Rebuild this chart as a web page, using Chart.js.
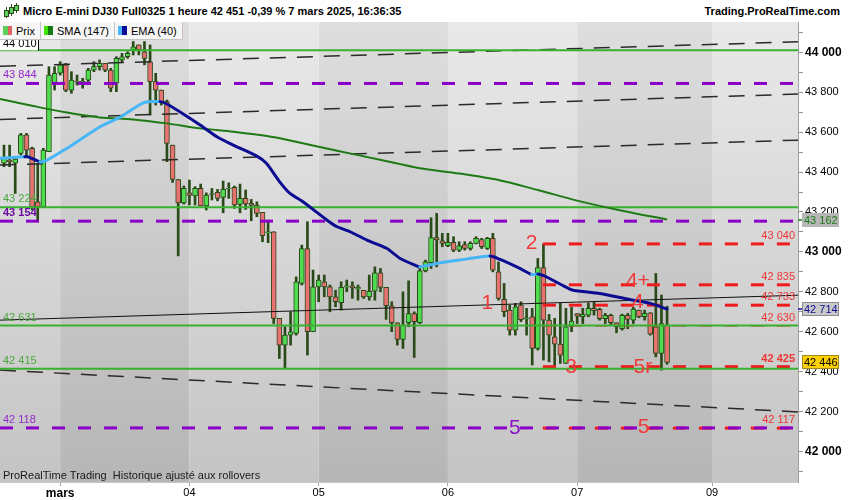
<!DOCTYPE html>
<html><head><meta charset="utf-8">
<script src="https://cdn.jsdelivr.net/npm/chart.js@4.4.1/dist/chart.umd.min.js"></script>
<style>
body{margin:0;width:850px;height:500px;overflow:hidden;background:#fff;font-family:"Liberation Sans",Arial,sans-serif;position:relative}
#hdr{position:absolute;left:0;top:0;width:850px;height:22px;background:#fff}
#title{position:absolute;left:23px;top:5px;font-weight:bold;font-size:11px;color:#000;white-space:nowrap}
#site{position:absolute;right:10px;top:5px;font-weight:bold;font-size:11px;color:#000;white-space:nowrap}
#wrap{position:absolute;left:0;top:22px;width:850px;height:478px}
#legend{position:absolute;left:0;top:22px;height:17px;display:flex;background:#f6f6f6;border-bottom:1px solid #c4c4c4;border-right:1px solid #c4c4c4;font-size:11px;color:#000}
.li{display:flex;align-items:center;padding:0 5px 0 3px;border-right:1px solid #c4c4c4;height:17px;white-space:nowrap}
.li:last-child{border-right:none}
.sw{display:inline-block;width:4.5px;height:9px}
.ic{position:absolute;background:#2a4a18}
.icb{position:absolute;background:#5cd05c;border:1px solid #2a4a18}
</style></head>
<body>
<div id="hdr">
  <div class="ic" style="left:6px;top:7px;width:1px;height:11px"></div>
  <div class="icb" style="left:4px;top:10px;width:3px;height:5px"></div>
  <div class="ic" style="left:11px;top:4px;width:1px;height:12px"></div>
  <div class="icb" style="left:9px;top:7px;width:3px;height:5px"></div>
  <div class="ic" style="left:16px;top:3px;width:1px;height:10px"></div>
  <div class="icb" style="left:14px;top:5px;width:3px;height:4px"></div>
  <div id="title">Micro E-mini DJ30 Full0325 1 heure 42 451 -0,39 % 7 mars 2025, 16:36:35</div>
  <div id="site">Trading.ProRealTime.com</div>
</div>
<div id="wrap"><canvas id="c" width="850" height="478"></canvas></div>
<div id="legend">
  <div class="li"><span class="sw" style="background:#5cd05c"></span><span class="sw" style="background:#e06464;margin-right:4px"></span>Prix</div>
  <div class="li"><span class="sw" style="background:#40e000"></span><span class="sw" style="background:#157a12;margin-right:4px"></span>SMA (147)</div>
  <div class="li"><span class="sw" style="background:#48b8f8"></span><span class="sw" style="background:#0a0a98;margin-right:4px"></span>EMA (40)</div>
</div>
<script>
// ---------- data ----------
const open  = [43444,43460,43445,43494,43586,43519,43251,43226,43502,43845,43895,43937,43811,43855,43850,43861,43911,43928,43945,43911,43845,43962,43978,44012,44037,44003,43953,43853,43811,43753,43535,43363,43246,43296,43280,43318,43231,43288,43298,43273,43315,43323,43238,43268,43243,43235,43198,43095,43100,42667,42533,42583,42591,42842,43017,42600,42825,42850,42825,42775,42745,42825,42830,42815,42808,42775,42803,42895,42822,42730,42645,42561,42645,42691,42645,42905,42946,43072,43056,43031,43048,43009,43037,43017,43043,43062,43017,43068,42900,42762,42708,42608,42733,42665,42675,42516,42922,42658,42575,42538,42441,42625,42691,42675,42683,42717,42712,42665,42682,42645,42615,42682,42658,42708,42675,42695,42625,42491,42633];
const high  = [43535,43535,43470,43594,43594,43525,43444,43519,43928,43928,43953,43945,43903,43886,43870,43920,43953,43962,43945,43920,43978,43995,44003,44054,44037,44054,44037,43895,43811,43761,43535,43363,43330,43360,43327,43340,43296,43318,43313,43355,43346,43330,43340,43310,43263,43251,43198,43159,43101,42667,42625,42700,42875,43034,43151,42909,42884,42884,42834,42808,42850,42859,42850,42834,42808,42884,42925,42917,42822,42750,42645,42800,42855,42700,42917,42959,43171,43193,43093,43093,43076,43051,43051,43051,43076,43068,43073,43093,42950,42842,42733,42742,42750,42717,42717,42967,43039,42687,42667,42742,42717,42722,42691,42717,42745,42750,42717,42692,42688,42645,42688,42692,42722,42708,42708,42695,42892,42784,42728];
const low   = [43427,43427,43293,43485,43477,43210,43151,43226,43502,43811,43886,43803,43795,43836,43820,43853,43903,43911,43903,43803,43803,43953,43970,43987,43987,43937,43686,43736,43736,43452,43348,42980,43240,43235,43235,43231,43210,43260,43256,43196,43268,43218,43196,43213,43156,43176,43051,43046,42641,42466,42416,42533,42583,42834,42483,42600,42750,42775,42700,42725,42708,42800,42767,42758,42767,42758,42758,42800,42662,42600,42533,42516,42625,42471,42641,42900,42917,42925,43026,43026,43001,43001,43009,43009,43040,43017,43012,42900,42758,42675,42583,42583,42650,42583,42433,42508,42458,42449,42424,42441,42441,42600,42641,42641,42675,42683,42658,42641,42633,42595,42608,42615,42641,42670,42658,42583,42474,42408,42437];
const close = [43469,43452,43465,43586,43510,43226,43226,43510,43886,43895,43937,43811,43861,43850,43855,43911,43928,43945,43911,43820,43970,43978,43995,44028,44012,43970,43853,43811,43753,43544,43363,43246,43318,43283,43318,43231,43285,43292,43268,43313,43318,43235,43268,43240,43233,43193,43081,43100,42667,42533,42583,42600,42850,43017,42600,42825,42859,42825,42775,42750,42822,42830,42820,42822,42775,42803,42895,42822,42730,42645,42561,42633,42691,42650,42905,42950,43072,43060,43043,43048,43009,43031,43017,43043,43068,43026,43068,42909,42767,42700,42608,42725,42661,42670,42516,42922,42658,42583,42538,42483,42625,42653,42678,42687,42717,42705,42665,42682,42645,42625,42682,42662,42713,42675,42692,42588,42491,42641,42446];

const smaIdx = [-0.7,5.2,11.2,17,23,29,34.9,40.8,46.8,49.1,56,63,70,74,81,88,95,102,110,118];
const smaVal = [43766,43731,43698,43674,43664,43644,43619,43602,43581,43569,43527,43485,43443,43419,43393,43360,43310,43257,43206,43162];

const emaIdx = [-0.7,3.7,4.3,6.4,7.4,11.2,17.1,20.6,24.8,27.8,29,31.9,34.9,37.9,40.8,45,46.7,49.1,50.9,53.2,57.5,59.3,61.6,64.6,68.1,70.5,73.5,74,77,81.1,86.5,88.3,91.8,93.9,95,96.3,99.3,101.1,106,109,112,115,118];
const emaVal = [43469,43477,43476,43452,43456,43519,43627,43674,43747,43753,43741,43691,43636,43577,43535,43480,43444,43350,43293,43251,43159,43126,43101,43059,43018,42967,42929,42925,42942,42959,42979,42962,42917,42887,42889,42878,42834,42809,42792,42775,42758,42742,42714];

const dayIdx = [10,33,56,79,102,126];
const dayLabels = ['mars','04','05','06','07','09'];
const priceTicks = [41900,42000,42100,42200,42300,42400,42500,42600,42700,42800,42900,43000,43100,43200,43300,43400,43500,43600,43700,43800,43900,44000,44100];

const greenLevels  = [44010,43224,42631,42415];
const purpleLevels = [43844,43154,42118];
const redLevels    = [43040,42835,42733,42630,42425,42117];
const redStartIdx  = 95.9;

const trendSolid  = [42658,42783];               // left edge, right edge
const trendDashed = [[43930,44053],[43664,43791],[43435,43560],[42408,42198]];

const waveText  = ['1','2','3','4+','4','5r','5','5'];
const waveIdx   = [86,93.9,100.9,112.8,112.8,113.7,90.9,113.8];
const wavePrice = [42743,43044,42424,42855,42750,42424,42118,42123];

const lastPrice = 42446, smaLast = 43162, emaLast = 42714;

// ---------- view ----------
const X_MIN = -0.71, X_MAX = 141.3, Y_MIN = 41847, Y_MAX = 44152;
const FONT = '"Liberation Sans", Arial, sans-serif';
const fmt = v => String(v).replace(/\B(?=(\d{3})+(?!\d))/g, ' ');
const hline = (v, a, b) => [{x: a, y: v}, {x: b, y: v}];
const noPad = s => { s.paddingTop = 0; s.paddingBottom = 0; s.paddingLeft = 0; s.paddingRight = 0; };

const datasets = [];
datasets.push({type:'bar', label:'wick', order:100, grouped:false, barThickness:2,
  data: low.map((l,i)=>({x:i, y:[l, high[i]]})), backgroundColor:'#2a4a18'});
datasets.push({type:'bar', label:'body', order:99, grouped:false, barThickness:5,
  data: open.map((o,i)=>({x:i, y:[o, close[i]]})),
  backgroundColor: open.map((o,i)=> close[i] >= o ? '#4fdc4f' : '#e87272'),
  borderColor:'#2a4a18', borderWidth:1, borderSkipped:false});
trendDashed.forEach(t => datasets.push({type:'line', order:60, data:[{x:X_MIN,y:t[0]},{x:X_MAX,y:t[1]}],
  borderColor:'#2a2a2a', borderWidth:1.5, borderDash:[16,11], pointRadius:0}));
datasets.push({type:'line', order:60, data:[{x:X_MIN,y:trendSolid[0]},{x:X_MAX,y:trendSolid[1]}],
  borderColor:'#111', borderWidth:1, pointRadius:0});
redLevels.forEach(v => datasets.push({type:'line', order:40, data:hline(v, redStartIdx, X_MAX),
  borderColor:'#ee1c1c', borderWidth: greenLevels.some(g => Math.abs(g - v) < 3) ? 1.5 : 3,
  borderDash:[13,13], pointRadius:0}));
greenLevels.forEach(v => datasets.push({type:'line', order:30, data:hline(v, X_MIN, X_MAX),
  borderColor:'#38b030', borderWidth:2, pointRadius:0}));
purpleLevels.forEach(v => datasets.push({type:'line', order:20, data:hline(v, X_MIN, X_MAX),
  borderColor:'#8a00c8', borderWidth:3, borderDash:[13,13], pointRadius:0}));
datasets.push({type:'line', order:10, data: smaIdx.map((k,i)=>({x:k,y:smaVal[i]})),
  borderColor:'#1e7a14', borderWidth:2, pointRadius:0, tension:0.3});
datasets.push({type:'line', order:5, data: emaIdx.map((k,i)=>({x:k,y:emaVal[i]})),
  borderWidth:3, pointRadius:0, tension:0.2, borderCapStyle:'round', borderJoinStyle:'round',
  borderColor:'#0c0c92',
  segment:{borderColor: c => c.p1.parsed.y > c.p0.parsed.y ? '#46b6f6' : '#0c0c92'}});

const bgPlugin = {
  id:'bg',
  beforeDraw(chart){
    const {ctx, chartArea:a, scales:{x}} = chart;
    const gl = ctx.createLinearGradient(0,a.top,0,a.bottom);
    gl.addColorStop(0,'#e9e9e9'); gl.addColorStop(1,'#c4c4c4');
    const gd = ctx.createLinearGradient(0,a.top,0,a.bottom);
    gd.addColorStop(0,'#dedede'); gd.addColorStop(1,'#b6b6b6');
    const b = [X_MIN, ...dayIdx, X_MAX];
    ctx.save();
    for (let i=0;i<b.length-1;i++){
      const x0 = Math.max(a.left, x.getPixelForValue(b[i]));
      const x1 = Math.min(a.right, x.getPixelForValue(b[i+1]));
      ctx.fillStyle = (i%2===1) ? gd : gl;
      ctx.fillRect(x0, a.top, x1-x0, a.bottom-a.top);
    }
    ctx.restore();
  }
};

const overlayPlugin = {
  id:'overlay',
  afterDraw(chart){
    const {ctx, chartArea:a, scales:{x,y}} = chart;
    ctx.save();
    ctx.textBaseline = 'middle';
    ctx.textAlign = 'left';
    greenLevels.forEach((v,i) => {
      const py = y.getPixelForValue(v);
      if (i===0){
        ctx.fillStyle='#fff'; ctx.fillRect(0, py-12, 38, 12);
        ctx.strokeStyle='#000'; ctx.lineWidth=1;
        ctx.beginPath(); ctx.moveTo(38.5, py-12); ctx.lineTo(38.5, py); ctx.stroke();
        ctx.fillStyle='#000'; ctx.font='11px '+FONT; ctx.fillText(fmt(v), 3, py-6.5);
      } else {
        ctx.fillStyle='#4aa83c'; ctx.font='11px '+FONT; ctx.fillText(fmt(v), 3, py-8);
      }
    });
    purpleLevels.forEach((v,i) => {
      const py = y.getPixelForValue(v);
      ctx.fillStyle = i===1 ? '#6a0a9e' : '#9428cc';
      ctx.font = (i===1 ? 'bold ' : '') + '11px '+FONT;
      ctx.fillText(fmt(v), 3, py-8);
    });
    ctx.textAlign = 'right';
    redLevels.forEach(v => {
      const py = y.getPixelForValue(v);
      ctx.fillStyle = '#f03434';
      ctx.font = (v===42425 ? 'bold ' : '') + '11px '+FONT;
      ctx.fillText(fmt(v), a.right-3, py-8);
    });
    ctx.textAlign = 'center';
    ctx.font = '21px '+FONT;
    waveText.forEach((t,i) => {
      ctx.fillStyle = i===6 ? '#8a10c8' : '#f03a3a';
      ctx.fillText(t, x.getPixelForValue(waveIdx[i]), y.getPixelForValue(wavePrice[i]));
    });
    ctx.textAlign='left'; ctx.fillStyle='#1a1a1a'; ctx.font='11px '+FONT;
    ctx.fillText('ProRealTime Trading  Historique ajusté aux rollovers', 3, a.bottom-6);
    const box = (v, bg, border, fg, tick) => {
      const py = Math.round(y.getPixelForValue(v));
      ctx.fillStyle = bg; ctx.fillRect(a.right+4, py-7, 37, 14);
      if (border){ ctx.strokeStyle=border; ctx.lineWidth=1; ctx.strokeRect(a.right+4.5, py-6.5, 36, 13); }
      if (tick){ ctx.strokeStyle=tick; ctx.lineWidth=1.5; ctx.beginPath(); ctx.moveTo(a.right, py); ctx.lineTo(a.right+4, py); ctx.stroke(); }
      ctx.fillStyle = fg; ctx.font='11px '+FONT; ctx.textAlign='left';
      ctx.fillText(fmt(v), a.right+6, py+0.5);
    };
    box(smaLast, '#b6b6b6', null, '#1e7a14', '#1e7a14');
    box(emaLast, '#cacaca', '#8c8c8c', '#0c0c92', '#0c0c92');
    box(lastPrice, '#ffd000', '#a08a20', '#000', null);
    ctx.restore();
  }
};

new Chart(document.getElementById('c'), {
  type:'bar',
  data:{datasets},
  plugins:[bgPlugin, overlayPlugin],
  options:{
    responsive:false, animation:false, devicePixelRatio:1,
    layout:{padding:0, autoPadding:false},
    plugins:{legend:{display:false}, tooltip:{enabled:false}},
    scales:{
      x:{type:'linear', min:X_MIN, max:X_MAX, offset:false, position:'bottom',
        afterBuildTicks: s => { s.ticks = dayIdx.map(v => ({value:v})); },
        afterFit: s => { s.height = 18; noPad(s); },
        grid:{drawOnChartArea:false, offset:false, tickLength:4, tickColor:'#a0a0a0'},
        border:{color:'#c8c8c8'},
        ticks:{autoSkip:false, maxRotation:0, padding:0, color:'#000',
          callback:(v,i)=> dayLabels[i],
          font: c => ({family:FONT, size: c.index===0 ? 12 : 11, weight: c.index===0 ? 'bold' : 'normal'})}},
      y:{type:'linear', min:Y_MIN, max:Y_MAX, position:'right',
        afterBuildTicks: s => { s.ticks = priceTicks.map(v => ({value:v})); },
        afterFit: s => { s.width = 52; noPad(s); },
        grid:{drawOnChartArea:false, tickLength:5, tickColor:'#909090'},
        border:{color:'#a0a0a0'},
        ticks:{autoSkip:false, padding:2, color:'#000',
          callback: v => (v % 200 === 0) ? fmt(v) : '',
          font: c => ({family:FONT, size: (c.tick && c.tick.value % 1000 === 0) ? 12 : 11,
                       weight: (c.tick && c.tick.value % 1000 === 0) ? 'bold' : 'normal'})}}
    }
  }
});
</script>
</body></html>
